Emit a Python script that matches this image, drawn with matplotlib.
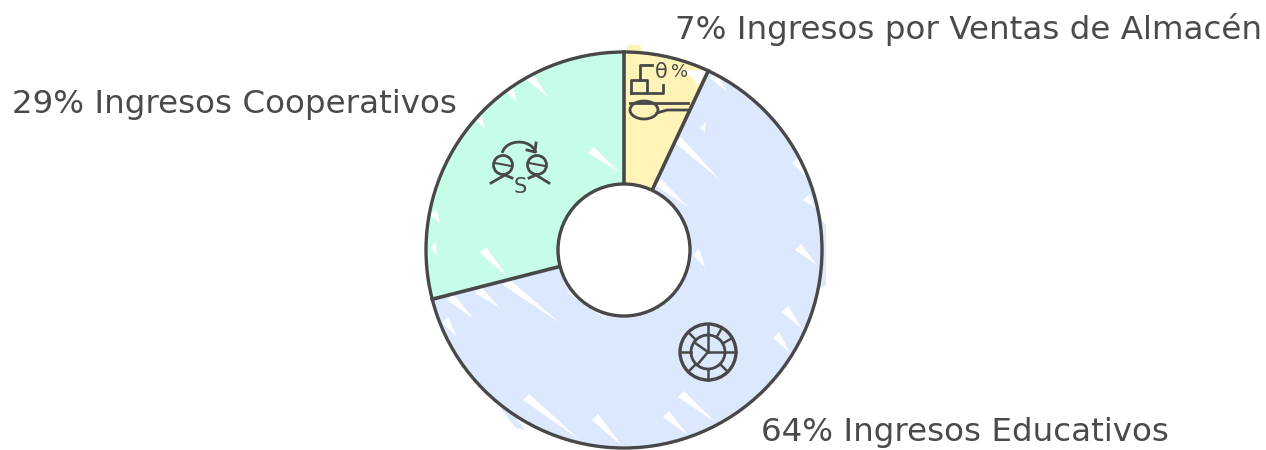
import numpy as np
import matplotlib.pyplot as plt
from matplotlib.patches import Circle, Wedge, Polygon, Ellipse

plt.rcParams['font.family'] = ['DejaVu Sans']

labels = ["7% Ingresos por Ventas de Almacén", "64% Ingresos Educativos", "29% Ingresos Cooperativos"]
values = [7, 64, 29]
colors = ["#fff4b8", "#dce8fe", "#c6fde6"]
label_pos = [(675, 29), (761, 433), (12, 105)]
dark = "#484848"
W, H = 1266, 450
cx, cy, R, r0 = 624, 250, 198, 66

fig = plt.figure(figsize=(W / 100, H / 100), dpi=100)
ax = fig.add_axes([0, 0, 1, 1])
ax.set_xlim(0, W)
ax.set_ylim(H, 0)
ax.axis("off")

# bits of fill that stick out past the outline
ax.add_patch(Polygon([(627, 45), (640, 45), (643, 54), (627, 54)], fc=colors[0], ec="none", zorder=1))
ax.add_patch(Polygon([(500, 408), (510, 410), (525, 430), (516, 428)], fc=colors[1], ec="none", zorder=1))
ax.add_patch(Polygon([(818, 215), (826, 225), (826, 285), (818, 290)], fc=colors[1], ec="none", zorder=1))

# slices run clockwise from the top; y axis is flipped so angles grow clockwise
start = -90
dividers = []
for v, c in zip(values, colors):
    end = start + v * 3.6
    ax.add_patch(Wedge((cx, cy), R, start, end, width=R - r0, fc=c, ec="none", zorder=1))
    dividers.append(start)
    start = end

# sketchy white slashes: wide end first, thin tip last
slashes = [(480, 253, 508, 277), (503, 285, 560, 323), (475, 293, 500, 308), (447, 300, 473, 318),
           (442, 323, 457, 337), (523, 400, 580, 440), (592, 420, 623, 447), (675, 143, 720, 180),
           (655, 185, 688, 207), (792, 163, 807, 178), (795, 250, 817, 265), (782, 312, 803, 330),
           (773, 338, 790, 353), (678, 397, 715, 422), (663, 417, 688, 435), (693, 255, 705, 267),
           (527, 80, 548, 97), (507, 93, 517, 102), (588, 153, 620, 173), (475, 120, 485, 128),
           (710, 78, 727, 92), (567, 293, 607, 320), (430, 215, 440, 223), (430, 248, 437, 255),
           (803, 200, 815, 208), (700, 128, 705, 132), (608, 193, 618, 199)]
for x0, y0, x1, y1 in slashes:
    ax.add_patch(Polygon([(x0, y0), (x1, y1), (x0 + 6, y0 - 6)], fc="white", ec="none", zorder=2))
ax.add_patch(Polygon([(683, 70), (708, 70), (697, 86), (695, 80)], fc="white", ec="none", zorder=2))

for d in dividers:
    a = np.radians(d)
    ax.plot([cx + r0 * np.cos(a), cx + R * np.cos(a)], [cy + r0 * np.sin(a), cy + R * np.sin(a)],
            color=dark, lw=2.6, zorder=3)

ax.add_patch(Circle((cx, cy), R, fc="none", ec=dark, lw=2.4, zorder=4))
ax.add_patch(Circle((cx, cy), r0, fc="white", ec=dark, lw=2.4, zorder=4))

# pie icon
ic = (708, 352)
ax.add_patch(Circle(ic, 28, fc="none", ec=dark, lw=2.4, zorder=5))
ax.add_patch(Circle(ic, 17, fc="none", ec=dark, lw=2, zorder=5))
for deg in [-90, -60, -30, 0, 45, 90, 135, 180, 225]:
    a = np.radians(deg)
    ax.plot([ic[0] + 17 * np.cos(a), ic[0] + 28 * np.cos(a)], [ic[1] + 17 * np.sin(a), ic[1] + 28 * np.sin(a)],
            color=dark, lw=1.8, zorder=5)
for deg in [-90, 0, 130, 215]:
    a = np.radians(deg)
    ax.plot([ic[0], ic[0] + 17 * np.cos(a)], [ic[1], ic[1] + 17 * np.sin(a)], color=dark, lw=1.8, zorder=5)

# cooperative icon
for x in [503, 537]:
    ax.add_patch(Circle((x, 165), 9.5, fc="none", ec=dark, lw=2, zorder=5))
    ax.plot([x - 8, x + 8], [163, 166], color=dark, lw=1.5, zorder=5)
ax.plot([491, 505, 512], [183, 175, 178], color=dark, lw=2, zorder=5)
ax.plot([529, 536, 549], [178, 175, 183], color=dark, lw=2, zorder=5)
t = np.radians(np.arange(195, 346, 15))
ax.plot(519 + 17 * np.cos(t), 155 + 13 * np.sin(t), color=dark, lw=2, zorder=5)
ax.plot([527, 535, 536], [150, 152, 143], color=dark, lw=2, zorder=5)
ax.text(520, 187, "S", fontsize=15, color=dark, ha="center", va="center", zorder=5)

# store icon
ax.text(661, 72, "θ", fontsize=15, color=dark, ha="center", va="center", zorder=5)
ax.text(680, 72, "%", fontsize=13, color=dark, ha="center", va="center", zorder=5)
ax.plot([640, 640, 652], [80, 65, 65], color=dark, lw=2, zorder=5)
ax.plot([631, 631, 647, 647, 631], [93, 80, 80, 93, 93], color=dark, lw=2, zorder=5)
ax.plot([647, 663, 663], [93, 93, 85], color=dark, lw=2, zorder=5)
ax.add_patch(Ellipse((644, 110), 28, 18, fc="none", ec=dark, lw=2, zorder=5))
ax.plot([630, 688], [103, 103], color=dark, lw=2, zorder=5)
ax.plot([657, 667, 688], [113, 110, 110], color=dark, lw=2, zorder=5)

for s, (x, y) in zip(labels, label_pos):
    ax.text(x, y, s, fontsize=23.4, color="#4a4a4a", ha="left", va="center", zorder=6)

fig.savefig("out.png", dpi=100)
